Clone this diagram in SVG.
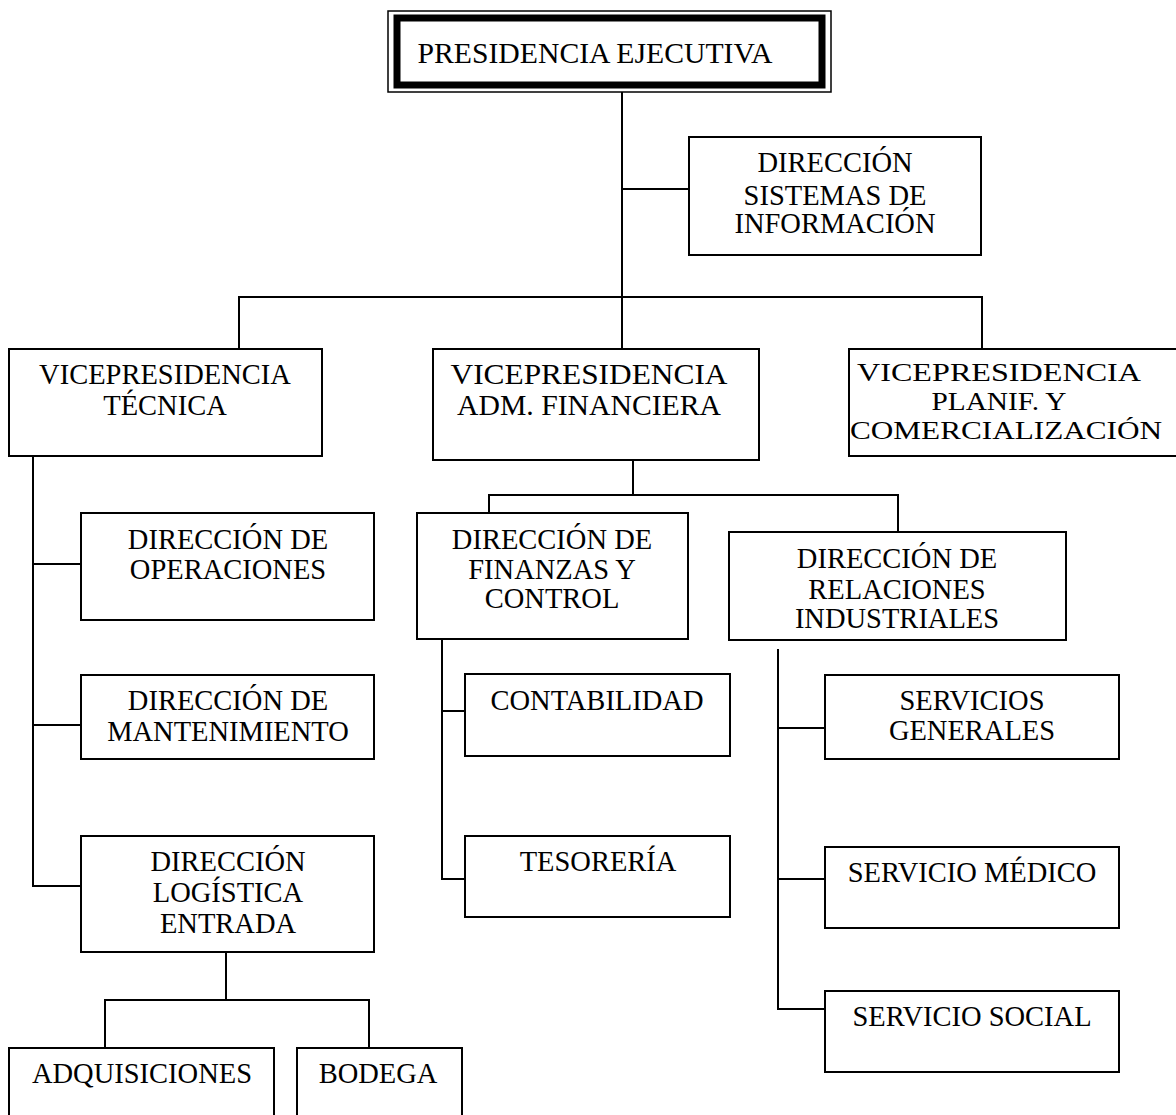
<svg xmlns="http://www.w3.org/2000/svg" width="1176" height="1115" viewBox="0 0 1176 1115">
<style>
.b{fill:#fff;stroke:#000;stroke-width:2}
.c{fill:none;stroke:#000;stroke-width:2}
text{font-family:"Liberation Serif","Times New Roman",serif;font-size:28.5px;fill:#000;text-anchor:middle}
.s{font-size:26px}
</style>
<rect width="1176" height="1115" fill="#fff"/>
<g id="connectors" class="c">
<path d="M622 92V349"/>
<path d="M622 189H689"/>
<path d="M239 349V297H982V349"/>
<path d="M633 460V495"/>
<path d="M489 513V495H898V532"/>
<path d="M33 456V886H81"/>
<path d="M33 564H81"/>
<path d="M33 725H81"/>
<path d="M226 952V1000"/>
<path d="M105 1048V1000H369V1048"/>
<path d="M442 639V879H465"/>
<path d="M442 711H465"/>
<path d="M778 649V1009H825"/>
<path d="M778 728H825"/>
<path d="M778 879H825"/>
</g>
<g id="presidencia">
<rect x="388" y="11" width="443" height="81" fill="#fff" stroke="#000" stroke-width="1.5"/>
<rect x="397" y="18" width="425" height="67" fill="#fff" stroke="#000" stroke-width="7"/>
<text x="595" y="63" style="font-size:29.5px" textLength="355" lengthAdjust="spacingAndGlyphs">PRESIDENCIA EJECUTIVA</text>
</g>
<g id="dir-sistemas">
<rect class="b" x="689" y="137" width="292" height="118"/>
<text x="835" y="172">DIRECCIÓN</text>
<text x="835" y="205">SISTEMAS DE</text>
<text x="835" y="233">INFORMACIÓN</text>
</g>
<g id="vp-tecnica">
<rect class="b" x="9" y="349" width="313" height="107"/>
<text x="165" y="384">VICEPRESIDENCIA</text>
<text x="165" y="415">TÉCNICA</text>
</g>
<g id="vp-adm">
<rect class="b" x="433" y="349" width="326" height="111"/>
<text x="589" y="384" textLength="277" lengthAdjust="spacingAndGlyphs">VICEPRESIDENCIA</text>
<text x="589" y="415" textLength="264" lengthAdjust="spacingAndGlyphs">ADM. FINANCIERA</text>
</g>
<g id="vp-planif">
<rect class="b" x="849" y="349" width="340" height="107"/>
<text class="s" x="999" y="381" textLength="284" lengthAdjust="spacingAndGlyphs">VICEPRESIDENCIA</text>
<text class="s" x="999" y="410" textLength="135" lengthAdjust="spacingAndGlyphs">PLANIF. Y</text>
<text class="s" x="1006" y="439" textLength="312" lengthAdjust="spacingAndGlyphs">COMERCIALIZACIÓN</text>
</g>
<g id="dir-operaciones">
<rect class="b" x="81" y="513" width="293" height="107"/>
<text x="228" y="549">DIRECCIÓN DE</text>
<text x="228" y="579">OPERACIONES</text>
</g>
<g id="dir-mantenimiento">
<rect class="b" x="81" y="675" width="293" height="84"/>
<text x="228" y="710">DIRECCIÓN DE</text>
<text x="228" y="741">MANTENIMIENTO</text>
</g>
<g id="dir-logistica">
<rect class="b" x="81" y="836" width="293" height="116"/>
<text x="228" y="871">DIRECCIÓN</text>
<text x="228" y="902">LOGÍSTICA</text>
<text x="228" y="933">ENTRADA</text>
</g>
<g id="adquisiciones">
<rect class="b" x="9" y="1048" width="265" height="80"/>
<text x="142" y="1083">ADQUISICIONES</text>
</g>
<g id="bodega">
<rect class="b" x="297" y="1048" width="165" height="80"/>
<text x="378" y="1083">BODEGA</text>
</g>
<g id="dir-finanzas">
<rect class="b" x="417" y="513" width="271" height="126"/>
<text x="552" y="549">DIRECCIÓN DE</text>
<text x="552" y="579">FINANZAS Y</text>
<text x="552" y="608">CONTROL</text>
</g>
<g id="contabilidad">
<rect class="b" x="465" y="674" width="265" height="82"/>
<text x="597" y="710">CONTABILIDAD</text>
</g>
<g id="tesoreria">
<rect class="b" x="465" y="836" width="265" height="81"/>
<text x="598" y="871">TESORERÍA</text>
</g>
<g id="dir-relaciones">
<rect class="b" x="729" y="532" width="337" height="108"/>
<text x="897" y="568">DIRECCIÓN DE</text>
<text x="897" y="599">RELACIONES</text>
<text x="897" y="628">INDUSTRIALES</text>
</g>
<g id="servicios-generales">
<rect class="b" x="825" y="675" width="294" height="84"/>
<text x="972" y="710">SERVICIOS</text>
<text x="972" y="740">GENERALES</text>
</g>
<g id="servicio-medico">
<rect class="b" x="825" y="847" width="294" height="81"/>
<text x="972" y="882">SERVICIO MÉDICO</text>
</g>
<g id="servicio-social">
<rect class="b" x="825" y="991" width="294" height="81"/>
<text x="972" y="1026">SERVICIO SOCIAL</text>
</g>
</svg>
